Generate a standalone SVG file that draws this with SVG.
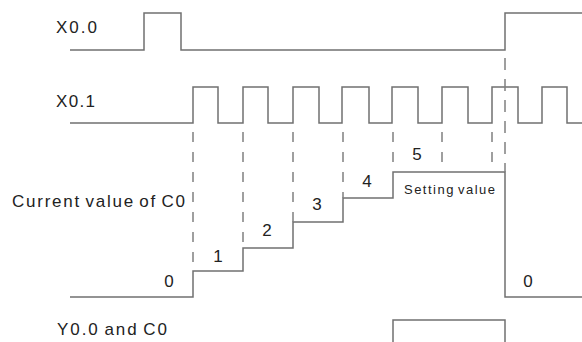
<svg xmlns="http://www.w3.org/2000/svg" width="582" height="342" viewBox="0 0 582 342">
<style>
.sig{fill:none;stroke:#707070;stroke-width:1.5}
.dash{fill:none;stroke:#808080;stroke-width:1.5;stroke-dasharray:10 10}
.lbl{font-family:"Liberation Sans",Arial,sans-serif;font-size:17px;fill:#222;word-spacing:-2px}
.num{font-family:"Liberation Sans",Arial,sans-serif;font-size:17px;fill:#222;text-anchor:middle}
.small{font-family:"Liberation Sans",Arial,sans-serif;font-size:13px;fill:#222;word-spacing:-2px}
</style>
<rect width="582" height="342" fill="#fff"/>
<g id="x00">
<text class="lbl" x="56" y="33" textLength="41" lengthAdjust="spacing">X0.0</text>
<path class="sig" d="M70,50 H144 V13 H181 V50 H505 V13 H582"/>
</g>
<g id="x01">
<text class="lbl" x="56" y="107" textLength="39" lengthAdjust="spacing">X0.1</text>
<path class="sig" d="M70,123 H193 V87 H218 V123 H243 V87 H268 V123 H293 V87 H319 V123 H342 V87 H369 V123 H392 V87 H418 V123 H442 V87 H468 V123 H492 V87 H518 V123 H542 V87 H567 V123 H582"/>
</g>
<g id="c0">
<text class="lbl" x="12" y="207" textLength="173" lengthAdjust="spacing">Current value of C0</text>
<path class="sig" d="M70,297 H193 V271 H243 V248 H293 V222 H343 V198 H393 V172 H505 V297 H582"/>
<text class="num" x="169" y="287">0</text>
<text class="num" x="218" y="262">1</text>
<text class="num" x="267" y="236">2</text>
<text class="num" x="317" y="210">3</text>
<text class="num" x="367" y="187">4</text>
<text class="num" x="417" y="160">5</text>
<text class="small" x="404" y="194" textLength="91" lengthAdjust="spacing">Setting value</text>
<text class="num" x="528" y="287">0</text>
</g>
<g id="y00">
<text class="lbl" x="57" y="335" textLength="110" lengthAdjust="spacing">Y0.0 and C0</text>
<path class="sig" d="M393,342 V320 H505 V342"/>
</g>
<g id="connectors">
<path class="dash" d="M193,132 V271"/>
<path class="dash" d="M243,132 V248"/>
<path class="dash" d="M293,132 V222"/>
<path class="dash" d="M343,132 V198"/>
<path class="dash" d="M393,132 V172"/>
<path class="dash" d="M442,132 V172"/>
<path class="dash" d="M492,132 V172"/>
<path class="dash" d="M505,58 V172" style="stroke-dasharray:12 9"/>
</g>
</svg>
